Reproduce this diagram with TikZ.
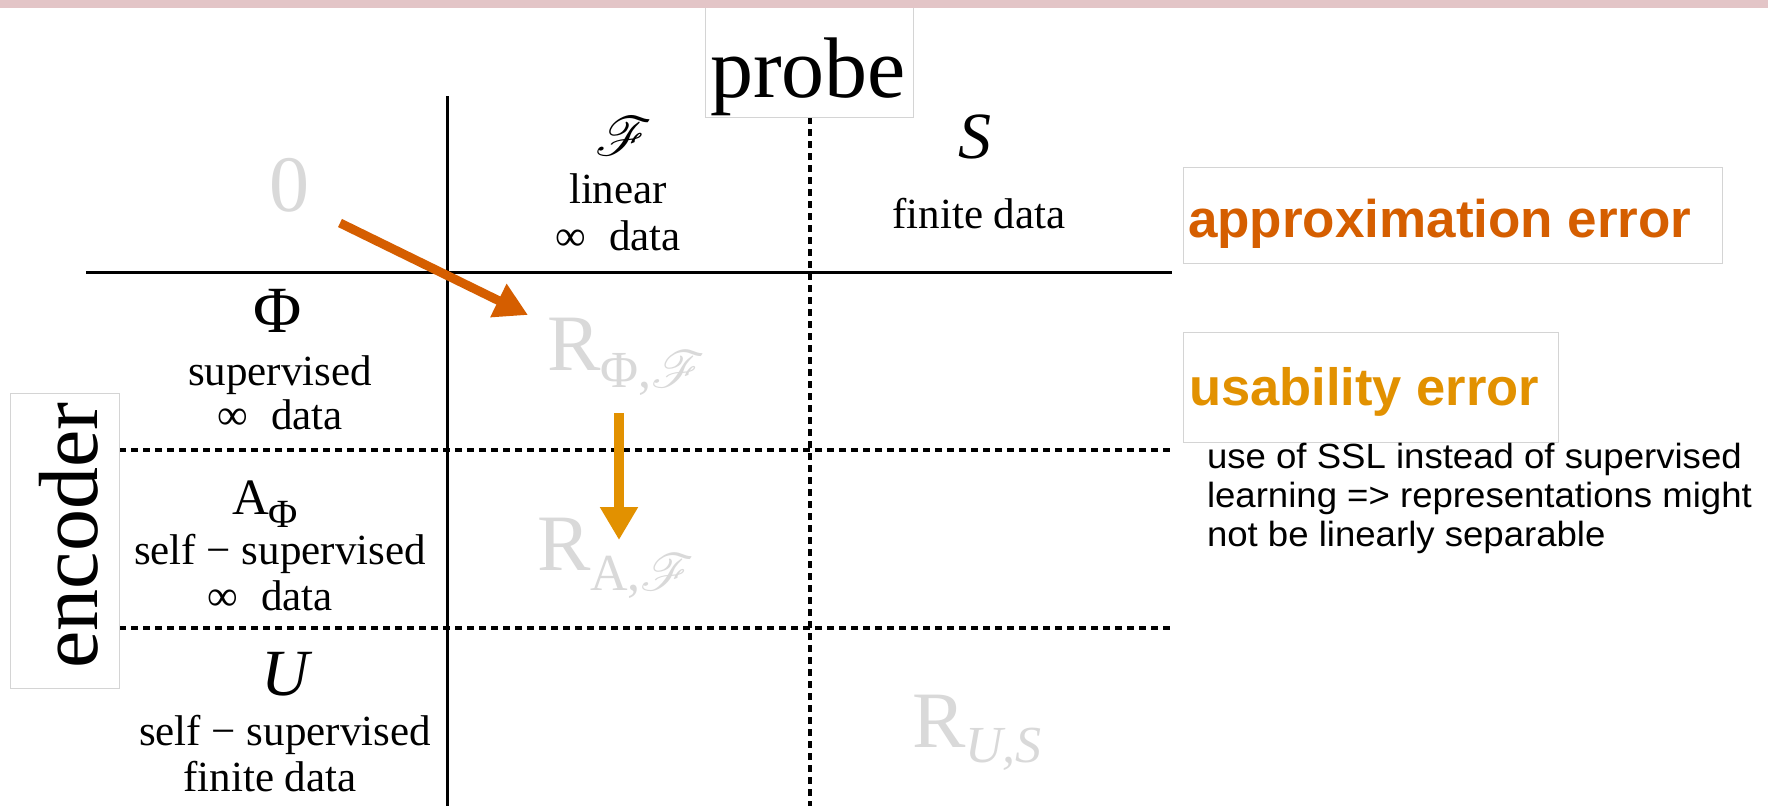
\documentclass[tikz,border=0pt]{standalone}
\usepackage{fontspec}
\setmainfont{Liberation Serif}
\newfontfamily\arialfont{Liberation Sans}
\usepackage{amsmath}
\DeclareFontFamily{U}{rsfs}{\skewchar\font127 }
\DeclareFontShape{U}{rsfs}{m}{n}{<-> rsfs10}{}
\usepackage{mathrsfs}
\usepackage{graphicx}
\usetikzlibrary{arrows.meta}
\definecolor{band}{RGB}{227,197,199}
\definecolor{apporange}{RGB}{213,94,0}
\definecolor{usaorange}{RGB}{226,145,0}
\definecolor{ghost}{RGB}{217,217,217}
\definecolor{boxline}{RGB}{212,212,212}
\newcommand{\fs}[1]{\fontsize{#1}{#1}\selectfont}
\begin{document}
\begin{tikzpicture}[x=1pt,y=-1pt,
  lbl/.style={inner sep=0pt, outer sep=0pt, anchor=base},
  lblw/.style={inner sep=0pt, outer sep=0pt, anchor=base west},
  gridsolid/.style={line width=3pt, black},
  griddash/.style={line width=3.5pt, black, dash pattern=on 6.5pt off 5.5pt},
  lightbox/.style={draw=boxline, line width=1pt, fill=white, inner sep=0pt},
  arrA/.style={draw=apporange, line width=9pt, -{Triangle[length=33pt,width=35pt]}},
  arrU/.style={draw=usaorange, line width=10pt, -{Triangle[length=33pt,width=36pt]}},
  bodytxt/.style={lblw, font=\arialfont\fs{35}}
]
\fill[white] (0,0) rectangle (1768,806);
\useasboundingbox (0,0) rectangle (1768,806);

% grid
\draw[gridsolid] (447,96) -- (447,806);
\draw[gridsolid] (86,272) -- (1172,272);
\draw[griddash] (810,117) -- (810,806);
\draw[griddash] (119,450) -- (1172,450);
\draw[griddash] (119,628) -- (1172,628);

% boxes
\node[lightbox, minimum width=109pt, minimum height=295pt] (encbox) at (64.5,540.5) {};
\node[lbl, rotate=90, font=\fs{84}] (enc) at (97,535.5) {encoder};
\node[lightbox, minimum width=208pt, minimum height=110pt] (probebox) at (809,62) {};
\node[lbl, font=\fs{86}] (probe) at (808,97) {probe};

% header row
\node[lbl, font=\fs{80}, text=ghost] (zero) at (289,211) {0};
\node[inner sep=0pt, font=\fs{55}] (Fcal) at (624,136) {$\mathscr{F}$};
\node[lbl, font=\fs{43}] (linear) at (618,203) {linear};
\node[lbl, font=\fs{43}] (infF) at (618,250) {∞\hspace{0.55em}data};
\node[lbl, font=\fs{66}\itshape] (S) at (975,158) {S};
\node[lbl, font=\fs{43}] (finS) at (979,228) {finite data};

% left column
\node[lbl, font=\fs{66}] (Phi) at (278,332) {Φ};
\node[lbl, font=\fs{43}] (sup) at (280,385) {supervised};
\node[lbl, font=\fs{43}] (infPhi) at (280,429) {∞\hspace{0.55em}data};
\node[lblw] (A) at (232,514) {\fs{51}A\raisebox{-13pt}{\fs{40}Φ}};
\node[lbl, font=\fs{43}] (ssA) at (280,564) {self − supervised};
\node[lbl, font=\fs{43}] (infA) at (270,610) {∞\hspace{0.55em}data};
\node[lbl, font=\fs{66}\itshape] (U) at (285,695) {U};
\node[lbl, font=\fs{43}] (ssU) at (285,745) {self − supervised};
\node[lbl, font=\fs{43}] (finU) at (270,791) {finite data};

% risk labels
\node[lblw, text=ghost] (RPhiF) at (547,370) {\fs{80}R\raisebox{-17pt}{\fs{52}Φ,$\mathscr{F}$}};
\node[lblw, text=ghost] (RAF) at (537,570) {\fs{80}R\raisebox{-20pt}{\fs{52}A,$\mathscr{F}$}};
\node[lblw, text=ghost] (RUS) at (912,747) {\fs{80}R\raisebox{-15pt}{\fs{52}\itshape U,S}};

% right side legend
\node[lightbox, minimum width=539pt, minimum height=96pt] (appbox) at (1452.5,215) {};
\node[lblw, font=\arialfont\bfseries\fs{53}, text=apporange] (app) at (1188,237) {approximation error};
\node[lightbox, minimum width=375pt, minimum height=110pt] (usabox) at (1370.5,387) {};
\node[lblw, font=\arialfont\bfseries\fs{52.5}, text=usaorange] (usa) at (1189,405) {usability error};
\node[bodytxt] (d1) at (1207,468) {\scalebox{1.045}[1]{use of SSL instead of supervised}};
\node[bodytxt] (d2) at (1207,507) {\scalebox{1.045}[1]{learning => representations might}};
\node[bodytxt] (d3) at (1207,546) {\scalebox{1.045}[1]{not be linearly separable}};

% arrows
\coordinate (a1s) at (340,223);
\coordinate (a1e) at (528,315);
\draw[arrA] (a1s) -- (a1e);
\coordinate (a2s) at (619,413);
\coordinate (a2e) at (619,540);
\draw[arrU] (a2s) -- (a2e);

% top band
\fill[band] (0,0) rectangle (1768,7.5);
\end{tikzpicture}
\end{document}
